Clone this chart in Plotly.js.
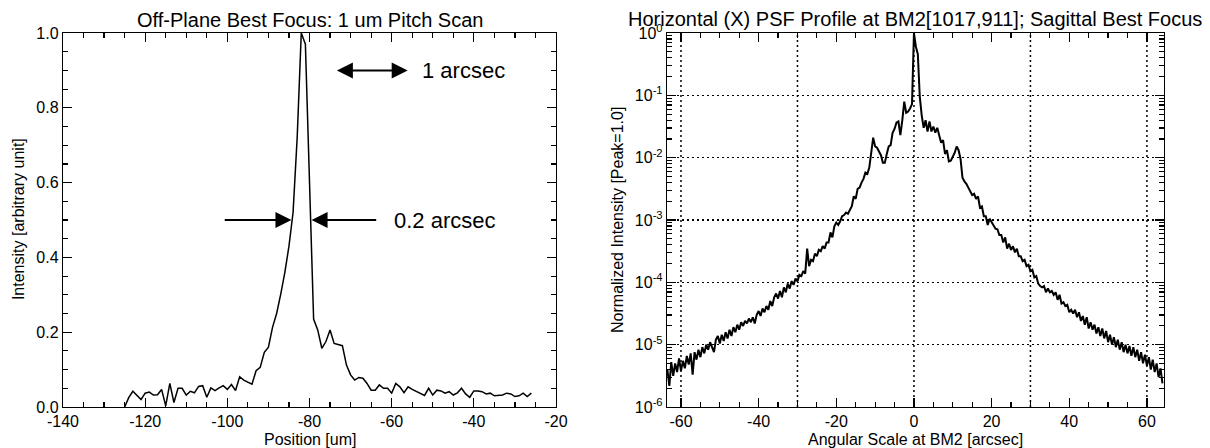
<!DOCTYPE html>
<html>
<head>
<meta charset="utf-8">
<script src="https://cdn.plot.ly/plotly-3.0.1.min.js"></script>
<style>html,body{margin:0;padding:0;background:#fff;}#chart{width:1210px;height:448px;}</style>
</head>
<body>
<div id="chart"></div>
<script>
// ---------- Left panel: Off-plane pitch scan (1 um pitch) ----------
const scanPosition = [
  -125,-124,-123,-122,-121,-120,-119,-118,-117,-116,
  -115,-114,-113,-112,-111,-110,-109,-108,-107,-106,
  -105,-104,-103,-102,-101,-100,-99,-98,-97,-96,
  -95,-94,-93,-92,-91,-90,-89,-88,-87,-86,
  -85,-84,-83,-82,-81,-80,-79,-78,-77,-76,
  -75,-74,-73,-72,-71,-70,-69,-68,-67,-66,
  -65,-64,-63,-62,-61,-60,-59,-58,-57,-56,
  -55,-54,-53,-52,-51,-50,-49,-48,-47,-46,
  -45,-44,-43,-42,-41,-40,-39,-38,-37,-36,
  -35,-34,-33,-32,-31,-30,-29,-28,-27,-26
];
const scanIntensity = [
  0.000,0.025,0.042,0.030,0.020,0.037,0.040,0.032,0.033,0.047,
  0.003,0.063,0.012,0.050,0.050,0.032,0.042,0.038,0.055,0.057,
  0.026,0.051,0.044,0.051,0.057,0.047,0.060,0.044,0.081,0.072,
  0.066,0.061,0.097,0.106,0.146,0.160,0.213,0.250,0.302,0.360,
  0.430,0.520,0.720,1.000,0.970,0.600,0.235,0.206,0.157,0.175,
  0.206,0.170,0.166,0.164,0.112,0.086,0.072,0.079,0.077,0.063,
  0.045,0.045,0.059,0.050,0.050,0.037,0.063,0.054,0.038,0.054,
  0.047,0.041,0.037,0.031,0.050,0.032,0.045,0.043,0.037,0.041,
  0.032,0.038,0.050,0.035,0.026,0.043,0.043,0.041,0.035,0.037,
  0.030,0.030,0.032,0.037,0.035,0.028,0.030,0.037,0.028,0.037
];
const scanTickVals = [-140, -120, -100, -80, -60, -40, -20];
const scanTickText = ['-140', '-120', '-100', '-80', '-60', '-40', '-20'];

// ---------- Right panel: horizontal PSF profile ----------
const angleStart = -63.5;   // arcsec, first sample
const angleStep = 0.5;      // arcsec between samples
// log10 of normalized intensity (Peak = 1.0)
const log10Intensity = [
  -5.40,-5.66,-5.28,-5.50,-5.30,-5.44,-5.22,-5.42,-5.26,-5.38,
  -5.18,-5.32,-5.14,-5.48,-5.12,-5.24,-5.08,-5.20,-5.04,-5.14,
  -5.00,-5.08,-4.96,-5.06,-5.12,-4.92,-4.86,-4.98,-4.84,-4.94,
  -4.80,-4.90,-4.76,-4.86,-4.72,-4.80,-4.68,-4.76,-4.64,-4.70,
  -4.62,-4.66,-4.58,-4.64,-4.56,-4.66,-4.52,-4.46,-4.54,-4.42,
  -4.48,-4.38,-4.44,-4.30,-4.38,-4.24,-4.18,-4.26,-4.14,-4.24,
  -4.08,-4.16,-4.02,-4.10,-3.98,-4.04,-3.94,-3.98,-3.88,-3.90,
  -3.82,-3.86,-3.46,-3.74,-3.64,-3.66,-3.54,-3.58,-3.48,-3.50,
  -3.42,-3.46,-3.36,-3.36,-3.20,-3.28,-3.10,-3.04,-3.08,-3.02,
  -2.94,-2.92,-2.88,-2.90,-2.84,-2.78,-2.62,-2.66,-2.50,-2.48,
  -2.40,-2.34,-2.24,-2.26,-2.16,-1.94,-1.68,-1.82,-1.84,-1.90,
  -1.96,-2.08,-2.08,-1.94,-1.82,-1.80,-1.60,-1.54,-1.44,-1.42,
  -1.64,-1.40,-1.10,-1.28,-1.26,-1.21,-1.14, 0.00,-0.22,-0.34,
  -1.02,-1.32,-1.52,-1.40,-1.58,-1.42,-1.58,-1.50,-1.60,-1.52,
  -1.64,-1.76,-1.72,-1.94,-1.88,-2.06,-2.05,-1.98,-1.92,-1.82,
  -1.88,-2.02,-2.32,-2.38,-2.42,-2.48,-2.54,-2.60,-2.58,-2.66,
  -2.62,-2.80,-2.78,-2.94,-2.94,-3.08,-2.98,-3.04,-3.08,-3.14,
  -3.15,-3.24,-3.24,-3.36,-3.28,-3.46,-3.38,-3.48,-3.42,-3.52,
  -3.46,-3.58,-3.58,-3.66,-3.64,-3.74,-3.72,-3.82,-3.80,-3.92,
  -3.90,-4.02,-4.06,-4.08,-4.06,-4.16,-4.10,-4.16,-4.14,-4.20,
  -4.16,-4.28,-4.20,-4.34,-4.32,-4.38,-4.36,-4.48,-4.44,-4.50,
  -4.44,-4.56,-4.48,-4.62,-4.54,-4.68,-4.56,-4.74,-4.64,-4.76,
  -4.68,-4.82,-4.72,-4.86,-4.74,-4.90,-4.78,-4.96,-4.84,-5.00,
  -4.88,-5.04,-4.92,-5.08,-4.96,-5.12,-5.00,-5.14,-5.02,-5.18,
  -5.04,-5.20,-5.08,-5.26,-5.12,-5.30,-5.16,-5.34,-5.20,-5.40,
  -5.24,-5.44,-5.30,-5.52,-5.38,-5.62
];
const psfAngle = log10Intensity.map((_, i) => angleStart + i * angleStep);
const psfIntensity = log10Intensity.map(v => Math.pow(10, v));

const psfTickVals = [-60, -40, -20, 0, 20, 40, 60];
const psfTickText = ['-60', '-40', '-20', '0', '20', '40', '60'];
const gridAngles = [-60, -30, 0, 30, 60];
const decadeVals = [1e-6, 1e-5, 1e-4, 1e-3, 1e-2, 1e-1, 1];
const decadeText = ['10<sup>-6</sup>','10<sup>-5</sup>','10<sup>-4</sup>','10<sup>-3</sup>','10<sup>-2</sup>','10<sup>-1</sup>','10<sup>0</sup>'];
const minorLogVals = [];
for (let e = -6; e < 0; e++) for (let d = 2; d <= 9; d++) minorLogVals.push(d * Math.pow(10, e));

const FONT = 'Liberation Sans, Arial, Helvetica, sans-serif';
const DOT = '2px,3px';

const traces = [
  {x: scanPosition, y: scanIntensity, xaxis: 'x', yaxis: 'y', type: 'scatter', mode: 'lines',
   line: {color: 'black', width: 1.5}, hoverinfo: 'skip'},
  {x: psfAngle, y: psfIntensity, xaxis: 'x2', yaxis: 'y2', type: 'scatter', mode: 'lines',
   line: {color: 'black', width: 2}, hoverinfo: 'skip'}
];

const axisCommon = {
  showline: true, linecolor: 'black', linewidth: 1.2, mirror: 'allticks',
  ticks: 'inside', tickcolor: 'black', tickwidth: 1.2, ticklen: 9,
  zeroline: false, tickfont: {size: 16, family: FONT, color: 'black'}
};

const shapes = gridAngles.map(a => ({
  type: 'line', xref: 'x2', yref: 'y2 domain', x0: a, x1: a, y0: 0, y1: 1,
  line: {color: 'black', width: 1.5, dash: DOT}, layer: 'below'
}));

const annotations = [
  {text: 'Off-Plane Best Focus: 1 um Pitch Scan', xref: 'paper', yref: 'paper', x: 0.2558, y: 0.955,
   xanchor: 'center', yanchor: 'middle', showarrow: false, font: {size: 20, family: FONT, color: 'black'}},
  {text: 'Horizontal (X) PSF Profile at BM2[1017,911]; Sagittal Best Focus', xref: 'paper', yref: 'paper', x: 0.7562, y: 0.957,
   xanchor: 'center', yanchor: 'middle', showarrow: false, font: {size: 20, family: FONT, color: 'black'}},
  {text: 'Position [um]', xref: 'paper', yref: 'paper', x: 0.2562, y: 0.018,
   xanchor: 'center', yanchor: 'middle', showarrow: false, font: {size: 16, family: FONT, color: 'black'}},
  {text: 'Intensity [arbitrary unit]', xref: 'paper', yref: 'paper', x: 18/1210, y: 0.511, textangle: -90,
   xanchor: 'center', yanchor: 'middle', showarrow: false, font: {size: 16, family: FONT, color: 'black'}},
  {text: 'Angular Scale at BM2 [arcsec]', xref: 'paper', yref: 'paper', x: 0.7562, y: 0.018,
   xanchor: 'center', yanchor: 'middle', showarrow: false, font: {size: 16, family: FONT, color: 'black'}},
  {text: 'Normalized Intensity [Peak=1.0]', xref: 'paper', yref: 'paper', x: 618/1210, y: 0.509, textangle: -90,
   xanchor: 'center', yanchor: 'middle', showarrow: false, font: {size: 16, family: FONT, color: 'black'}},
  // arrows on left panel
  {text: '', xref: 'x', yref: 'y', x: -84.4, y: 0.5, axref: 'x', ayref: 'y', ax: -101, ay: 0.5,
   showarrow: true, arrowhead: 2, arrowsize: 1.6, arrowwidth: 2, arrowcolor: 'black'},
  {text: '', xref: 'x', yref: 'y', x: -79.5, y: 0.5, axref: 'x', ayref: 'y', ax: -63.4, ay: 0.5,
   showarrow: true, arrowhead: 2, arrowsize: 1.6, arrowwidth: 2, arrowcolor: 'black'},
  {text: '', xref: 'x', yref: 'y', x: -56.1, y: 0.9, axref: 'x', ayref: 'y', ax: -73.7, ay: 0.9,
   showarrow: true, arrowhead: 2, startarrowhead: 2, arrowside: 'end+start', arrowsize: 1.6, startarrowsize: 1.6,
   arrowwidth: 2, arrowcolor: 'black'},
  {text: '1 arcsec', xref: 'x', yref: 'y', x: -53.2, y: 0.9, xanchor: 'left', yanchor: 'middle',
   showarrow: false, font: {size: 22, family: FONT, color: 'black'}},
  {text: '0.2 arcsec', xref: 'x', yref: 'y', x: -60.0, y: 0.5, xanchor: 'left', yanchor: 'middle',
   showarrow: false, font: {size: 22, family: FONT, color: 'black'}}
];

const layout = {
  width: 1210, height: 448, margin: {l: 0, r: 0, t: 0, b: 0},
  paper_bgcolor: 'white', plot_bgcolor: 'white', showlegend: false,
  font: {family: FONT, color: 'black', size: 16},
  xaxis: Object.assign({}, axisCommon, {
    domain: [63/1210, 556/1210], anchor: 'y', range: [-140, -20],
    tickmode: 'array', tickvals: scanTickVals, ticktext: scanTickText, showgrid: false,
    minor: {tickmode: 'linear', dtick: 5, tick0: -140, ticks: 'inside', ticklen: 5, tickcolor: 'black', tickwidth: 1.2, showgrid: false}
  }),
  yaxis: Object.assign({}, axisCommon, {
    domain: [41/448, 415/448], anchor: 'x', range: [0, 1],
    tickmode: 'linear', tick0: 0, dtick: 0.2, tickformat: '.1f', showgrid: false,
    minor: {tickmode: 'linear', dtick: 0.05, tick0: 0, ticks: 'inside', ticklen: 5, tickcolor: 'black', tickwidth: 1.2, showgrid: false}
  }),
  xaxis2: Object.assign({}, axisCommon, {
    domain: [667/1210, 1164/1210], anchor: 'y2', range: [-63.6, 64.4],
    tickmode: 'array', tickvals: psfTickVals, ticktext: psfTickText, showgrid: false,
    minor: {tickmode: 'linear', dtick: 5, tick0: 0, ticks: 'inside', ticklen: 5, tickcolor: 'black', tickwidth: 1.2, showgrid: false}
  }),
  yaxis2: Object.assign({}, axisCommon, {
    domain: [41/448, 415/448], anchor: 'x2', type: 'log', range: [-6, 0],
    tickmode: 'array', tickvals: decadeVals, ticktext: decadeText,
    showgrid: true, gridcolor: 'black', gridwidth: 1.5, griddash: DOT,
    minor: {tickmode: 'array', tickvals: minorLogVals, ticks: 'inside', ticklen: 5, tickcolor: 'black', tickwidth: 1.2, showgrid: false}
  }),
  shapes: shapes,
  annotations: annotations
};

Plotly.newPlot('chart', traces, layout, {staticPlot: true, displayModeBar: false});
</script>
</body>
</html>
